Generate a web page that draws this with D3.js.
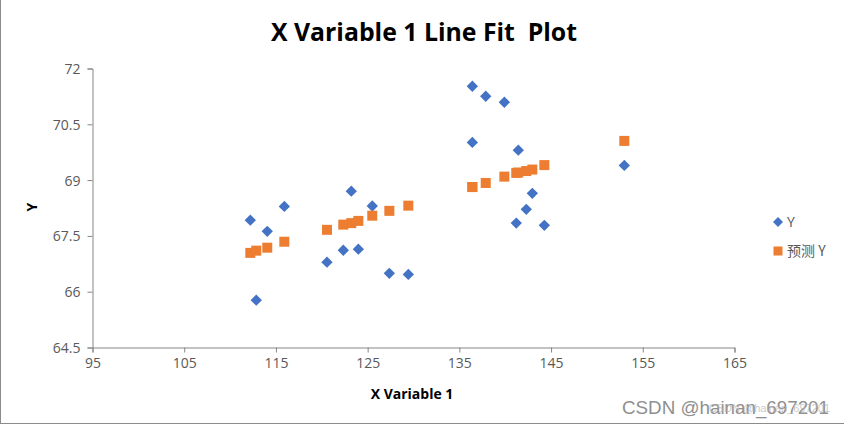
<!DOCTYPE html>
<html>
<head>
<meta charset="utf-8">
<script src="https://cdn.jsdelivr.net/npm/d3@7"></script>
<style>
html,body{margin:0;padding:0;background:#fff;}
svg{display:block;}
</style>
</head>
<body>
<svg id="chart" width="844" height="426"></svg>
<script>
// ---- data ----
const xValues = [112.26,112.91,114.11,115.97,120.62,122.40,123.27,124.04,125.56,127.42,129.49,136.47,136.47,137.93,139.96,141.26,141.48,142.35,143.01,144.32,153.04];
const yValues = [67.91,65.76,67.61,68.28,66.78,67.10,68.69,67.13,68.29,66.48,66.45,71.51,70.00,71.24,71.08,67.83,69.79,68.20,68.63,67.77,69.38];
const predictedY = [67.03,67.09,67.17,67.33,67.65,67.79,67.83,67.89,68.03,68.16,68.30,68.80,68.80,68.91,69.08,69.18,69.19,69.23,69.27,69.39,70.04];
const xTicks = [95,105,115,125,135,145,155,165];
const yTicks = [64.5,66,67.5,69,70.5,72];
const seriesNames = ["Y","预测 Y"];
const titleText = "X Variable 1 Line Fit  Plot";
const xTitle = "X Variable 1";
const yTitle = "Y";

const svg = d3.select("#chart");
const blue = "#4472C4", orange = "#ED7D31", axisCol = "#868686", txt = "#595959";

// border
svg.append("line").attr("x1",0.5).attr("x2",0.5).attr("y1",0).attr("y2",423.5).attr("stroke","#8c8c8c");
svg.append("line").attr("x1",0).attr("x2",844).attr("y1",423.5).attr("y2",423.5).attr("stroke","#8c8c8c");

const x = d3.scaleLinear().domain([95,165]).range([92,734]);
const y = d3.scaleLinear().domain([64.5,72]).range([347,68]);

// y axis
const yAxis = svg.append("g").attr("transform","translate(92.5,0.5)")
  .call(d3.axisLeft(y).tickValues(yTicks).tickSize(5).tickPadding(7).tickFormat(d=>d3.format("")(d)));
yAxis.select(".domain").attr("stroke",axisCol);
yAxis.selectAll(".tick line").attr("stroke",axisCol);
yAxis.selectAll(".tick text").attr("fill",txt).attr("font-family","'Open Sans', 'DejaVu Sans', sans-serif").attr("font-size",14).attr("dy","0.35em");

// x axis
const xAxis = svg.append("g").attr("transform","translate(0.5,347.5)")
  .call(d3.axisBottom(x).tickValues(xTicks).tickSize(5).tickPadding(6));
xAxis.select(".domain").attr("stroke",axisCol);
xAxis.selectAll(".tick line").attr("stroke",axisCol);
xAxis.selectAll(".tick text").attr("fill",txt).attr("font-family","'Open Sans', 'DejaVu Sans', sans-serif").attr("font-size",14);

// title
svg.append("text").attr("x",424).attr("y",41).attr("text-anchor","middle")
  .attr("font-family","'Open Sans', 'Liberation Sans', sans-serif").attr("font-weight","bold")
  .attr("font-size",25).attr("fill","#000")
  .attr("textLength",306).attr("lengthAdjust","spacingAndGlyphs")
  .style("white-space","pre").text(titleText);

// axis titles
svg.append("text").attr("x",412).attr("y",399).attr("text-anchor","middle")
  .attr("font-family","'Open Sans', 'Liberation Sans', sans-serif").attr("font-weight","bold")
  .attr("font-size",14).attr("fill","#000").text(xTitle);
svg.append("text").attr("transform","translate(37,207) rotate(-90)").attr("text-anchor","middle")
  .attr("font-family","'Open Sans', 'Liberation Sans', sans-serif").attr("font-weight","bold")
  .attr("font-size",14).attr("fill","#000").text(yTitle);

const diamond = d3.symbol().type(d3.symbolSquare).size(64);

// series Y (diamonds)
svg.append("g").selectAll("path").data(xValues).join("path")
  .attr("d",diamond)
  .attr("transform",(d,i)=>`translate(${x(d)},${y(yValues[i])}) rotate(45)`)
  .attr("fill",blue);

// predicted (squares)
svg.append("g").selectAll("rect").data(xValues).join("rect")
  .attr("x",d=>x(d)-5).attr("y",(d,i)=>y(predictedY[i])-5)
  .attr("width",10).attr("height",10).attr("fill",orange);

// legend
const lg = svg.append("g");
lg.append("path").attr("d",d3.symbol().type(d3.symbolSquare).size(50)).attr("transform","translate(778,222) rotate(45)").attr("fill",blue);
lg.append("rect").attr("x",773.5).attr("y",246.5).attr("width",9).attr("height",9).attr("fill",orange);
lg.append("text").attr("x",787).attr("y",227).attr("font-family","'Open Sans', 'Noto Sans CJK SC', sans-serif").attr("font-size",14).attr("fill",txt).text(seriesNames[0]);
lg.append("text").attr("x",787).attr("y",256).attr("font-family","'Noto Sans CJK SC', sans-serif").attr("font-size",14).attr("fill",txt).text(seriesNames[1]);

// watermark
svg.append("text").attr("x",622).attr("y",414)
  .attr("font-family","'Liberation Sans', Arial, sans-serif").attr("font-size",17.5).attr("fill","#8f8f8f")
  .attr("textLength",207).attr("lengthAdjust","spacingAndGlyphs").text("CSDN @hainan_697201");
svg.append("text").attr("x",830).attr("y",412).attr("text-anchor","end")
  .attr("font-family","'Liberation Sans', Arial, sans-serif").attr("font-size",11).attr("fill","#b5b5b5").attr("opacity",0.7).text("CSDN @hainan_697201");
</script>
</body>
</html>
